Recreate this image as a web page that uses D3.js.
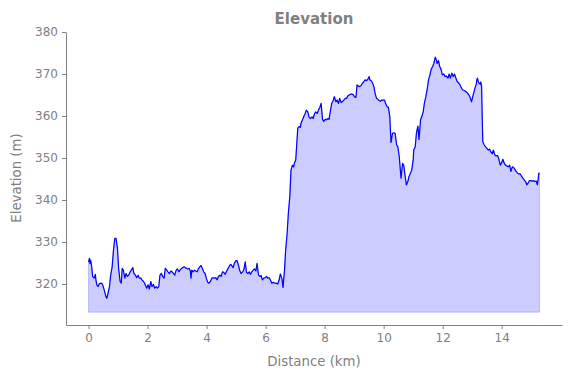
<!DOCTYPE html>
<html>
<head>
<meta charset="utf-8">
<script src="https://cdn.jsdelivr.net/npm/d3@7"></script>
<style>
  body { margin: 0; background: #fff; }
  svg { display: block; font-family: "DejaVu Sans", sans-serif; }
</style>
</head>
<body>
<div id="chart"></div>
<script>
// distance along the route (km)
const distKm = [
  0.00, 0.03, 0.05, 0.07, 0.10, 0.14, 0.19, 0.23, 0.25, 0.28, 0.32, 0.37, 0.44, 0.48, 0.53, 0.59, 0.62, 0.66, 0.71, 0.75,
  0.80, 0.84, 0.89, 0.93, 0.98, 1.02, 1.07, 1.11, 1.14, 1.18, 1.23, 1.27, 1.32, 1.36, 1.41, 1.45, 1.50, 1.54, 1.59, 1.63,
  1.68, 1.72, 1.77, 1.81, 1.86, 1.90, 1.97, 2.02, 2.06, 2.11, 2.15, 2.20, 2.24, 2.29, 2.33, 2.38, 2.42, 2.47, 2.51, 2.56,
  2.60, 2.65, 2.69, 2.74, 2.79, 2.83, 2.88, 2.92, 2.97, 3.01, 3.06, 3.10, 3.15, 3.19, 3.24, 3.28, 3.33,
  3.36, 3.41, 3.45, 3.47, 3.50, 3.54, 3.59, 3.63, 3.68, 3.72, 3.77, 3.81, 3.86, 3.90, 3.95, 3.99, 4.04, 4.08, 4.13, 4.18,
  4.22, 4.27, 4.31, 4.36, 4.40, 4.45, 4.49, 4.54, 4.58, 4.63, 4.67, 4.72, 4.76, 4.81, 4.85, 4.90, 4.94, 4.99, 5.03, 5.08,
  5.12, 5.17, 5.22, 5.26, 5.31, 5.35, 5.40, 5.44, 5.49, 5.53, 5.58, 5.62, 5.67, 5.71, 5.76, 5.80, 5.85, 5.89, 5.94, 5.98,
  6.03, 6.07, 6.12, 6.16, 6.21, 6.26, 6.30, 6.35,
  6.41, 6.46, 6.50, 6.55, 6.59, 6.64, 6.68, 6.73, 6.77, 6.82, 6.86, 6.91, 6.95, 6.98, 7.02, 7.05, 7.09, 7.14, 7.18, 7.20,
  7.25, 7.29, 7.34, 7.38, 7.43, 7.47, 7.52, 7.57, 7.61, 7.66, 7.70, 7.75, 7.79, 7.84, 7.88, 7.93, 7.97, 8.02, 8.06, 8.11,
  8.15, 8.20, 8.24, 8.29, 8.33, 8.38, 8.42, 8.47, 8.51, 8.56, 8.60, 8.65, 8.70, 8.74, 8.79, 8.83, 8.88, 8.92, 8.97, 9.01,
  9.06, 9.10, 9.15, 9.19, 9.24, 9.28, 9.33, 9.37, 9.42, 9.46, 9.51, 9.53, 9.58, 9.62, 9.67, 9.71, 9.76, 9.80, 9.85, 9.89,
  9.94, 9.98,
  10.03, 10.07, 10.12, 10.16, 10.21, 10.23, 10.25, 10.30, 10.34, 10.39, 10.44, 10.48, 10.53, 10.57, 10.59, 10.64, 10.68,
  10.73, 10.77, 10.82, 10.86, 10.91, 10.95, 11.00, 11.02, 11.07, 11.11, 11.16, 11.20, 11.25, 11.29, 11.34, 11.38, 11.43,
  11.48, 11.52, 11.57, 11.61, 11.66, 11.70, 11.75, 11.79, 11.81, 11.86, 11.90, 11.95, 11.99, 12.04, 12.08, 12.13, 12.18,
  12.22, 12.26, 12.31, 12.36, 12.40, 12.45, 12.49, 12.54,
  12.59, 12.64, 12.68, 12.75, 12.82, 12.89, 12.93, 12.98, 13.02, 13.07, 13.11, 13.14, 13.16, 13.18, 13.20, 13.23, 13.27,
  13.29, 13.32, 13.34, 13.36, 13.41, 13.45, 13.50, 13.54, 13.59, 13.63, 13.68, 13.72, 13.77, 13.81, 13.86, 13.90, 13.95,
  14.00, 14.04, 14.09, 14.13, 14.18, 14.22, 14.27, 14.31, 14.36, 14.40, 14.45, 14.49, 14.54, 14.58, 14.63, 14.67, 14.72,
  14.76, 14.81, 14.85, 14.90, 14.94, 14.99, 15.03, 15.08, 15.12, 15.17, 15.21, 15.24, 15.26, 15.28
];

// elevation (m) at each distance above
const elevM = [
  325.2, 326.1, 324.9, 325.7, 324.5, 321.8, 321.4, 322.3, 321.0, 319.8, 319.4, 320.1, 320.2, 319.8, 318.6, 317.0, 316.6, 317.8, 319.4, 322.1,
  324.1, 327.7, 330.9, 330.9, 328.5, 323.7, 320.6, 320.2, 323.7, 323.3, 321.4, 322.5, 321.8, 322.1, 322.9, 323.3, 323.9, 322.5, 322.1, 321.5,
  322.1, 321.4, 321.4, 321.0, 320.6, 320.2, 319.0, 319.8, 318.8, 320.6, 319.4, 319.9, 319.0, 319.4, 319.0, 319.4, 322.1, 322.5, 321.8, 321.4,
  323.7, 323.3, 322.9, 322.5, 323.1, 322.9, 322.5, 322.1, 323.3, 323.6, 322.9, 323.3, 323.7, 323.9, 324.1, 323.9, 323.7,
  323.6, 323.7, 323.1, 321.4, 323.3, 322.9, 323.3, 323.1, 322.9, 323.6, 324.1, 324.4, 323.7, 322.9, 322.5, 321.4, 320.4, 320.2, 320.6, 321.4,
  321.5, 321.4, 321.5, 321.0, 321.8, 322.1, 321.8, 322.9, 322.8, 322.3, 322.9, 323.6, 324.1, 324.7, 324.4, 323.9, 324.9, 325.5, 325.6, 324.5,
  323.3, 322.5, 322.9, 323.3, 325.3, 322.8, 322.5, 322.9, 322.3, 322.9, 323.3, 323.6, 323.1, 324.9, 322.1, 321.8, 322.0, 321.0, 321.4, 321.5,
  321.8, 321.4, 321.5, 321.0, 320.2, 320.4, 320.2, 320.2,
  320.0, 321.0, 322.4, 321.4, 319.2, 323.3, 328.1, 332.1, 336.8, 340.8, 347.1, 348.3, 347.9, 348.9, 349.5, 352.7, 357.1, 357.5, 357.3, 358.3,
  359.1, 359.8, 360.6, 361.4, 361.0, 359.8, 359.4, 359.8, 359.4, 360.6, 361.0, 360.6, 361.4, 362.1, 363.0, 359.2, 358.7, 359.2, 359.1, 359.4,
  359.2, 361.4, 363.0, 363.7, 364.6, 363.4, 363.8, 363.0, 364.2, 363.2, 363.4, 363.8, 364.2, 364.2, 364.8, 365.0, 365.2, 365.2, 365.1, 364.6,
  364.4, 367.4, 367.1, 367.0, 367.3, 367.8, 368.2, 368.6, 368.4, 368.7, 369.4, 368.6, 368.4, 367.9, 367.0, 365.4, 364.2, 364.0, 363.7, 363.5,
  363.8, 363.8,
  363.8, 362.9, 362.2, 362.1, 359.8, 356.7, 353.7, 355.9, 356.0, 355.9, 353.1, 352.7, 350.3, 346.8, 345.2, 348.7, 348.3,
  345.6, 343.6, 344.4, 345.6, 346.4, 347.1, 349.5, 351.9, 352.7, 355.9, 357.6, 354.4, 359.1, 359.8, 361.0, 363.0, 364.6,
  366.6, 368.6, 369.8, 371.1, 371.8, 372.5, 374.0, 373.3, 372.5, 373.2, 371.8, 371.0, 369.8, 370.0, 369.4, 369.5, 369.0,
  370.0, 369.0, 370.2, 369.4, 370.0, 369.0, 368.2, 367.9,
  367.4, 366.6, 366.2, 366.0, 365.6, 365.0, 364.4, 363.4, 364.6, 366.0, 367.0, 367.6, 368.7, 369.0, 368.4, 367.8, 367.6,
  368.1, 367.0, 359.8, 353.9, 353.1, 352.7, 352.3, 351.9, 352.1, 351.5, 351.0, 351.9, 350.7, 350.5, 350.6, 349.9, 348.3,
  348.9, 349.7, 348.7, 348.3, 348.1, 347.9, 348.3, 346.8, 347.9, 347.8, 347.3, 346.8, 346.4, 346.2, 346.2, 345.7, 345.2,
  344.8, 344.4, 343.6, 344.1, 344.6, 344.6, 344.5, 344.6, 344.4, 344.5, 343.6, 345.2, 346.4, 346.5
];

const xTicks = [0, 2, 4, 6, 8, 10, 12, 14];
const yTicks = [320, 330, 340, 350, 360, 370, 380];
const baseElev = 313.3; // bottom of the shaded area

const data = distKm.map((d, i) => ({ km: d, elev: elevM[i] }));

const width = 571;
const height = 378;
const grey = "#808080";

const svg = d3.select("#chart")
  .append("svg")
  .attr("width", width)
  .attr("height", height);

// scales (matplotlib style 5% x margins)
const xScale = d3.scaleLinear()
  .domain([-0.764, 16.044])
  .range([66, 562]);

const yScale = d3.scaleLinear()
  .domain([310.24, 380])
  .range([325, 32]);

// shaded area under the profile
const areaGen = d3.area()
  .x(d => xScale(d.km))
  .y0(yScale(baseElev))
  .y1(d => yScale(d.elev));

svg.append("path")
  .attr("d", areaGen(data))
  .attr("fill", "blue")
  .attr("fill-opacity", 0.2)
  .attr("stroke", "blue")
  .attr("stroke-opacity", 0.2)
  .attr("stroke-width", 1);

// profile line
const lineGen = d3.line()
  .x(d => xScale(d.km))
  .y(d => yScale(d.elev));

svg.append("path")
  .attr("d", lineGen(data))
  .attr("fill", "none")
  .attr("stroke", "blue")
  .attr("stroke-width", 1.2)
  .attr("stroke-linejoin", "round");

// axes
const xAxis = d3.axisBottom(xScale)
  .tickValues(xTicks)
  .tickSize(4)
  .tickPadding(4)
  .tickSizeOuter(0);

const yAxis = d3.axisLeft(yScale)
  .tickValues(yTicks)
  .tickSize(4)
  .tickPadding(4)
  .tickSizeOuter(0);

const gx = svg.append("g")
  .attr("transform", "translate(0,325)")
  .call(xAxis);

const gy = svg.append("g")
  .attr("transform", "translate(66,0)")
  .call(yAxis);

[gx, gy].forEach(g => {
  g.select(".domain").attr("stroke", grey);
  g.selectAll(".tick line").attr("stroke", grey);
  g.selectAll(".tick text")
    .attr("fill", grey)
    .attr("font-size", 12)
    .attr("font-family", "DejaVu Sans, sans-serif");
});

// titles
svg.append("text")
  .text("Elevation")
  .attr("x", 314)
  .attr("y", 24)
  .attr("text-anchor", "middle")
  .attr("font-size", 15)
  .attr("font-weight", "bold")
  .attr("fill", grey);

svg.append("text")
  .text("Distance (km)")
  .attr("x", 314)
  .attr("y", 366)
  .attr("text-anchor", "middle")
  .attr("font-size", 13.3)
  .attr("fill", grey);

svg.append("text")
  .text("Elevation (m)")
  .attr("transform", "translate(21,178) rotate(-90)")
  .attr("text-anchor", "middle")
  .attr("font-size", 13.3)
  .attr("fill", grey);
</script>
</body>
</html>
